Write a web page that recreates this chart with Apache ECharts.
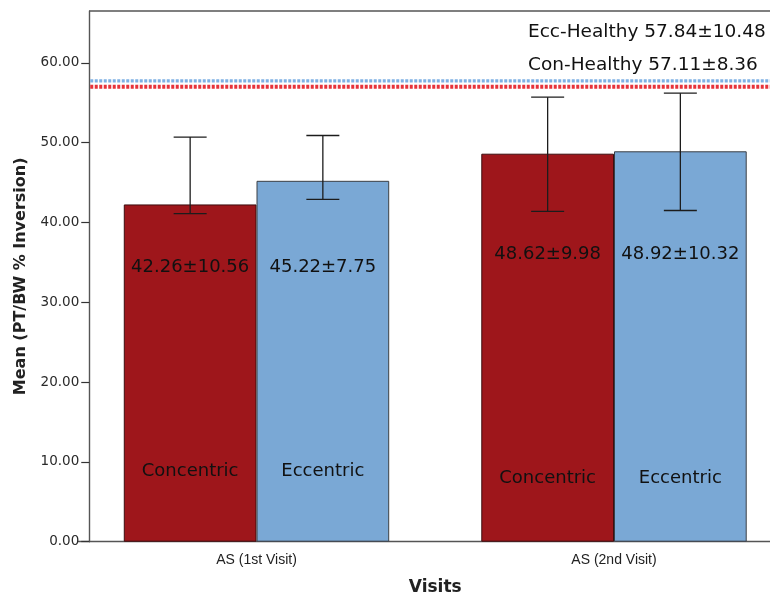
<!DOCTYPE html>
<html>
<head>
<meta charset="utf-8">
<script src="https://cdn.jsdelivr.net/npm/echarts@6/dist/echarts.min.js"></script>
<style>
  html, body { margin: 0; padding: 0; background: #ffffff; }
  #chart { width: 770px; height: 596px; }
</style>
</head>
<body>
<div id="chart"></div>
<script>
// ---- data ----
const visits = ['AS (1st Visit)', 'AS (2nd Visit)'];
const groupNames = ['Concentric', 'Eccentric'];
const concentricMean = [42.26, 48.62];
const concentricSD = [10.56, 9.98];
const eccentricMean = [45.22, 48.92];
const eccentricSD = [7.75, 10.32];
// error bar ends
const concentricErrLow = [41.1, 41.4];
const concentricErrHigh = [50.7, 55.7];
const eccentricErrLow = [42.9, 41.5];
const eccentricErrHigh = [50.9, 56.2];
// healthy reference groups
const healthyNames = ['Ecc-Healthy', 'Con-Healthy'];
const healthyMean = [57.84, 57.11];
const healthySD = [10.48, 8.36];
const yTicks = [0, 10, 20, 30, 40, 50, 60];
const yMin = 0, yMax = 66.5;

// ---- layout & style ----
const GRID = { left: 77.75, top: 11, width: 715, height: 530.7 };
const AXIS_SHIFT = 11.5;          // y axis sits a little inside the grid edge
const BAR_FRAC = 0.3712;          // bar width as a share of the category band
const STAT_LEVEL = [34.4, 36.0];  // height of the mean±SD text per visit
const NAME_LEVEL = [8.8, 7.9];    // height of the group name per visit
const CONC_COLOR = '#9e161b';
const ECC_COLOR = '#7aa8d5';
const HEALTHY_COLORS = ['#7db0e4', '#e6333b'];
const FONT = 'DejaVu Sans';

const fmt = (m, s) => m.toFixed(2) + '±' + s.toFixed(2);

function barCenterX(api, cat, side) {
  const band = api.size([1, 0])[0];
  return api.coord([cat, 0])[0] + side * band * BAR_FRAC / 2;
}

function errorItem(params, api) {
  const cat = api.value(0);
  const side = api.value(3);
  const x = barCenterX(api, cat, side);
  const yLo = api.coord([cat, api.value(1)])[1];
  const yHi = api.coord([cat, api.value(2)])[1];
  const cap = 16.5;
  const st = { stroke: '#1c1c1c', lineWidth: 1.3 };
  return {
    type: 'group',
    children: [
      { type: 'line', shape: { x1: x, y1: yLo, x2: x, y2: yHi }, style: st },
      { type: 'line', shape: { x1: x - cap, y1: yHi, x2: x + cap, y2: yHi }, style: st },
      { type: 'line', shape: { x1: x - cap, y1: yLo, x2: x + cap, y2: yLo }, style: st }
    ]
  };
}

const means = [concentricMean, eccentricMean];
const sds = [concentricSD, eccentricSD];

function textItem(params, api) {
  const cat = api.value(0);
  const g = api.value(1);
  const side = g === 0 ? -1 : 1;
  const x = barCenterX(api, cat, side);
  const yStat = api.coord([cat, STAT_LEVEL[cat]])[1];
  const yName = api.coord([cat, NAME_LEVEL[cat]])[1];
  const base = { fill: '#111', fontFamily: FONT, fontSize: 18, align: 'center', verticalAlign: 'middle' };
  return {
    type: 'group',
    children: [
      { type: 'text', x: x, y: yStat, style: Object.assign({ text: fmt(means[g][cat], sds[g][cat]) }, base) },
      { type: 'text', x: x, y: yName, style: Object.assign({ text: groupNames[g] }, base) }
    ]
  };
}

const chart = echarts.init(document.getElementById('chart'), null, { renderer: 'canvas' });

const option = {
  backgroundColor: '#ffffff',
  animation: false,
  grid: Object.assign({ containLabel: false, outerBoundsMode: 'none' }, GRID),
  xAxis: {
    type: 'category',
    data: visits,
    name: 'Visits',
    nameLocation: 'middle',
    nameGap: 37,
    nameTextStyle: { fontFamily: FONT, fontWeight: 'bold', fontSize: 17, color: '#222' },
    axisLine: { lineStyle: { color: '#555', width: 1.4 } },
    axisTick: { alignWithLabel: true, length: 8, lineStyle: { color: '#222', width: 1.2 } },
    axisLabel: { fontFamily: 'Liberation Sans', fontSize: 14, color: '#222', margin: 11 }
  },
  yAxis: {
    type: 'value',
    min: yMin,
    max: yMax,
    offset: -AXIS_SHIFT,
    name: 'Mean (PT/BW % Inversion)',
    nameLocation: 'middle',
    nameGap: 60,
    nameTextStyle: { fontFamily: FONT, fontWeight: 'bold', fontSize: 16, color: '#222' },
    axisLine: { show: true, lineStyle: { color: '#555', width: 1.4 } },
    axisTick: { show: true, length: 8, customValues: yTicks, lineStyle: { color: '#333', width: 1.2 } },
    axisLabel: {
      fontFamily: FONT, fontSize: 13.5, color: '#2a2a2a', margin: 10,
      customValues: yTicks,
      formatter: v => v.toFixed(2)
    },
    splitLine: { show: false }
  },
  series: [
    {
      name: groupNames[0], type: 'bar', data: concentricMean,
      barWidth: (BAR_FRAC * 100) + '%', barGap: '0%',
      itemStyle: { color: CONC_COLOR, borderColor: '#3d0d0f', borderWidth: 1 },
      z: 2
    },
    {
      name: groupNames[1], type: 'bar', data: eccentricMean,
      barWidth: (BAR_FRAC * 100) + '%', barGap: '0%',
      itemStyle: { color: ECC_COLOR, borderColor: '#3a3f45', borderWidth: 1 },
      z: 2
    },
    {
      type: 'custom', renderItem: errorItem, z: 5,
      data: visits.map((v, i) => [i, concentricErrLow[i], concentricErrHigh[i], -1])
        .concat(visits.map((v, i) => [i, eccentricErrLow[i], eccentricErrHigh[i], 1]))
    },
    {
      type: 'custom', renderItem: textItem, z: 6, silent: true,
      data: visits.map((v, i) => [i, 0]).concat(visits.map((v, i) => [i, 1]))
    }
  ]
};
chart.setOption(option);

// frame line across the top and the dotted healthy reference lines
const axisX = GRID.left + AXIS_SHIFT;
const rightX = chart.getWidth();
const yTopPx = chart.convertToPixel({ yAxisIndex: 0 }, yMax);
const refWidths = [3.2, 4.2];
const graphics = [
  { type: 'line', z: 10, shape: { x1: axisX, y1: yTopPx, x2: rightX, y2: yTopPx },
    style: { stroke: '#555', lineWidth: 1.4 } }
];
// draw the red line first so the blue one sits above it
[1, 0].forEach(i => {
  const y = chart.convertToPixel({ yAxisIndex: 0 }, healthyMean[i]);
  graphics.push({
    type: 'line', z: 10,
    shape: { x1: axisX + 1, y1: y + 0.8, x2: rightX, y2: y + 0.8 },
    style: { stroke: HEALTHY_COLORS[i], lineWidth: refWidths[i], lineDash: [3, 1.5] }
  });
});
healthyNames.forEach((n, i) => {
  graphics.push({
    type: 'text', z: 10, x: 528, y: 32 + i * 33,
    style: { text: n + ' ' + healthyMean[i].toFixed(2) + '±' + healthySD[i].toFixed(2),
             fill: '#111', fontFamily: FONT, fontSize: 18.5, align: 'left', verticalAlign: 'middle' }
  });
});
chart.setOption({ graphic: graphics });
</script>
</body>
</html>
